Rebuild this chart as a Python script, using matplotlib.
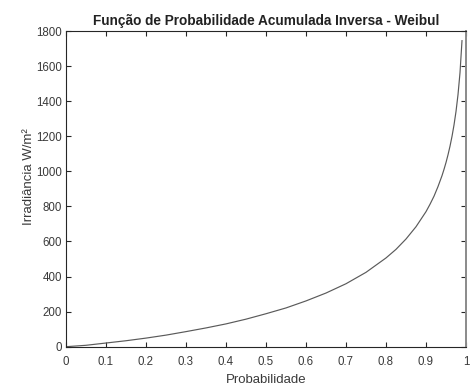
import matplotlib
matplotlib.use("Agg")
import matplotlib.pyplot as plt

plt.rcParams['font.family'] = ['Liberation Sans', 'DejaVu Sans']

# Inverse cumulative distribution (Weibull) of irradiance
prob = [0.00, 0.05, 0.10, 0.15, 0.20, 0.25, 0.30, 0.35, 0.40, 0.45,
        0.50, 0.55, 0.60, 0.65, 0.70, 0.75, 0.80, 0.825, 0.85, 0.875,
        0.90, 0.91, 0.92, 0.93, 0.94, 0.945, 0.95, 0.955, 0.96, 0.965,
        0.97, 0.975, 0.98, 0.985, 0.99]
irrad = [0, 8, 21, 34, 49, 66, 86, 107, 130, 157,
         188, 221, 261, 306, 359, 424, 506, 555, 614, 684,
         770, 812, 858, 913, 975, 1011, 1050, 1094, 1143, 1199,
         1264, 1341, 1437, 1562, 1745]

xticks = [0, 0.1, 0.2, 0.3, 0.4, 0.5, 0.6, 0.7, 0.8, 0.9, 1]
xticklabels = ['0', '0.1', '0.2', '0.3', '0.4', '0.5', '0.6', '0.7', '0.8', '0.9', '1']
yticks = [0, 200, 400, 600, 800, 1000, 1200, 1400, 1600, 1800]

fig = plt.figure(figsize=(4.72, 3.86), dpi=100)
ax = fig.add_axes([66/472, 1 - 346.7/386, 400/472, 315.7/386])

ax.plot(prob, irrad, color='#5a5a5a', linewidth=0.85)

ax.set_xlim(0, 1)
ax.set_ylim(0, 1800)
ax.set_xticks(xticks)
ax.set_xticklabels(xticklabels)
ax.set_yticks(yticks)

txt = '#3a3a3a'
for s in ax.spines.values():
    s.set_color('#262626')
    s.set_linewidth(0.8)
ax.spines['right'].set_color('#8a8a8a')
ax.spines['right'].set_linewidth(1.4)
ax.tick_params(direction='in', top=True, right=True, length=3.5, width=0.8,
               labelsize=8.3, colors='#262626', labelcolor=txt)
ax.tick_params(axis='x', pad=7)
ax.tick_params(axis='y', pad=3)

ax.set_title('Função de Probabilidade Acumulada Inversa - Weibul',
             fontsize=9.8, fontweight='bold', color='#222222', pad=4)
ax.set_xlabel('Probabilidade', fontsize=9.5, color=txt, labelpad=4)
ax.set_ylabel('Irradiância W/m²', fontsize=9.5, color=txt)
ax.yaxis.set_label_coords(-0.078, 0.54)

fig.savefig('out.png', dpi=100)
